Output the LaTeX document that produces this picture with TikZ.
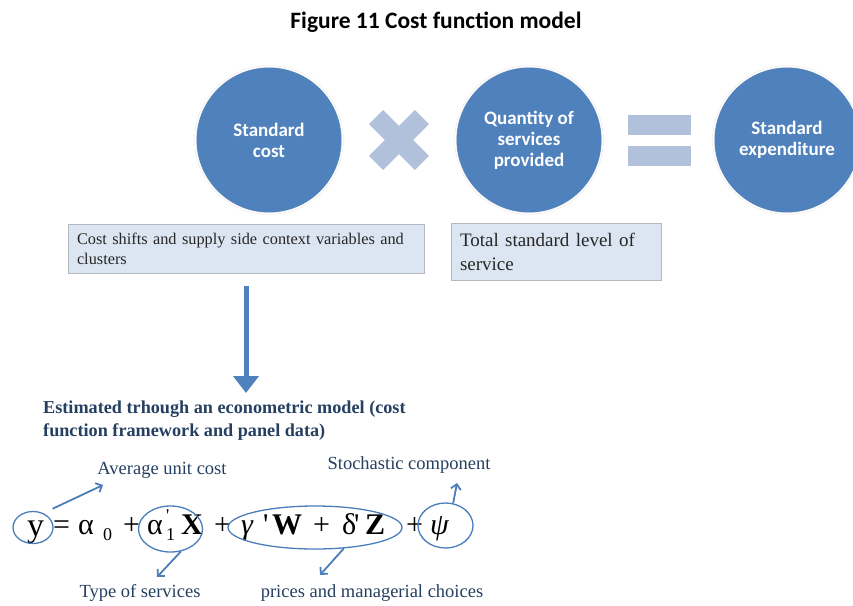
\documentclass[tikz,border=0pt]{standalone}
\usepackage{fontspec}
\setmainfont{Liberation Serif}
\newfontfamily\calibri{Carlito}
\usepackage{xcolor}
\definecolor{costblue}{HTML}{4F81BD}
\definecolor{costpale}{HTML}{B1C1DB}
\definecolor{costbox}{HTML}{DCE6F2}
\definecolor{costedge}{HTML}{B4B9C0}
\definecolor{costnavy}{HTML}{243F60}
\definecolor{costlink}{HTML}{4A7EBB}
\definecolor{costtext}{HTML}{262626}
\usepackage{tikz}
\usetikzlibrary{
  arrows.meta,
  shapes.geometric,
}

\newcommand{\eqsub}[1]{{\fontsize{18}{18}\selectfont #1}}
\newcommand{\eqbig}[1]{{\fontsize{34}{34}\selectfont #1}}

\begin{document}
\begin{tikzpicture}[
  x=1pt, y=-1pt,
  bubble/.style={
    circle, fill=costblue, draw=black!12, double=white,
    double distance=1.2pt, minimum size=147pt, inner sep=0pt,
    text=white, align=center,
    font=\calibri\bfseries\fontsize{19}{21}\selectfont,
  },
  crossbar/.style={
    rectangle, fill=costpale, minimum width=65pt, minimum height=20pt,
    inner sep=0pt,
  },
  eqbar/.style={
    rectangle, fill=costpale, minimum width=63pt, minimum height=20pt,
    inner sep=0pt,
  },
  notebox/.style={
    rectangle, fill=costbox, draw=costedge, line width=0.6pt,
    inner xsep=9pt, inner ysep=0pt, align=left, text=costtext,
  },
  bigarrow/.style={
    -{Triangle[length=17pt,width=25pt]}, line width=5pt, draw=costblue,
  },
  term/.style={
    anchor=base west, inner sep=0pt, font=\fontsize{30}{30}\selectfont,
  },
  ring/.style={
    ellipse, draw=costlink, line width=1.3pt, inner sep=0pt,
  },
  gloss/.style={
    text=costnavy, inner sep=1pt, font=\fontsize{18.5}{22}\selectfont,
  },
  link/.style={
    -{Straight Barb[length=5pt,width=10pt]}, line width=1.8pt,
    draw=costlink,
  },
]
  \useasboundingbox (0,0) rectangle (853,605);
  \clip (0,0) rectangle (853,605);

  % Title
  \node[font=\calibri\bfseries\fontsize{23.5}{27}\selectfont] (title)
    at (436,22) {Figure 11 Cost function model};

  % Factors and result
  \node[bubble] (stdcost) at (269,140) {Standard\\cost};
  \node[bubble] (quantity) at (529,140) {Quantity of\\services\\provided};
  \node[bubble] (expenditure) at (787,140) {Standard\\expenditure};

  % Operator signs
  \node[crossbar, rotate=45] (timesa) at (399,140) {};
  \node[crossbar, rotate=-45] (timesb) at (399,140) {};
  \node[eqbar] (eqtop) at (659.5,125) {};
  \node[eqbar] (eqbot) at (659.5,156) {};

  % Notes under the factors
  \node[notebox, minimum width=356pt, minimum height=49pt, text width=338pt,
    font=\fontsize{16.3}{20}\selectfont] (shifts) at (246,248.5)
    {Cost shifts and supply side context variables and\\clusters};
  \node[notebox, minimum width=210pt, minimum height=57pt, text width=192pt,
    font=\fontsize{19}{24}\selectfont] (level) at (556,251.5)
    {Total standard level of\\service};

  % Estimation step
  \node[anchor=north west, inner sep=0pt, align=left, text=costnavy,
    font=\bfseries\fontsize{18.2}{23}\selectfont] (estim) at (43,401)
    {Estimated trhough an econometric model (cost\\function framework and panel data)};
  \draw[bigarrow, shorten <=13pt, shorten >=8pt]
    (shifts.south) -- (shifts.south |- estim.north);

  % Cost function
  \foreach \xpos/\ypos/\piece [count=\i] in {
      27/536/\eqbig{y}, 53/534/{=}, 78/534/α, 103/540/\eqsub{0},
      123/534/+, 147/534/α, 166/521/\eqsub{\textquotesingle},
      166/540/\eqsub{1}, 181/534/\textbf{X}, 214/534/+, 241/534/\textit{γ},
      263/534/\textquotesingle, 272/534/\textbf{W}, 313/534/+,
      342/534/δ, 354/534/\textquotesingle, 365/534/\textbf{Z},
      406/534/+, 430/534/\textit{ψ}}
    \node[term] (term\i) at (\xpos,\ypos) {\piece};

  % Highlighted terms
  \node[ring, minimum width=40pt, minimum height=32pt] (ey) at (33,527.5) {};
  \node[ring, minimum width=64pt, minimum height=46pt] (ex) at (170.5,529) {};
  \node[ring, minimum width=174pt, minimum height=43pt] (ew) at (315,527.5) {};
  \node[ring, minimum width=55pt, minimum height=45pt] (ep) at (445.5,525.5) {};

  % What each term stands for
  \node[gloss] (avgcost) at (162,470) {Average unit cost};
  \node[gloss] (svctype) at (140,593) {Type of services};
  \node[gloss] (prices) at (372,593) {prices and managerial choices};
  \node[gloss] (stoch) at (409,465) {Stochastic component};

  \coordinate (avgtip) at (103,485);
  \coordinate (typetip) at (157,577);
  \coordinate (pricetip) at (320,575);
  \coordinate (stochtip) at (457,483);

  \draw[link] ([xshift=5pt,yshift=7pt]ey.north east) -- (avgtip);
  \draw[link] (ex.-65) -- (typetip);
  \draw[link] (ew.-36) -- (pricetip);
  \draw[link] (ep.71) -- (stochtip);
\end{tikzpicture}
\end{document}
